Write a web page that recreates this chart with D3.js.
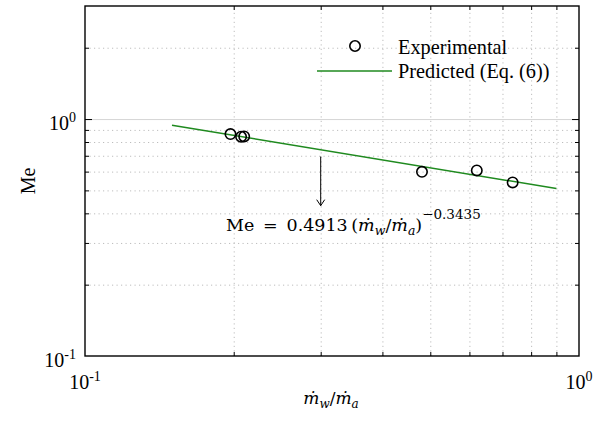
<!DOCTYPE html>
<html>
<head>
<meta charset="utf-8">
<script src="https://cdn.jsdelivr.net/npm/d3@7"></script>
<style>
    body { margin: 0; background: #fff; }
    text { font-family: "Liberation Serif", "Times New Roman", serif; fill: #000; }
    .math { font-family: "DejaVu Serif", serif; }
</style>
</head>
<body>
<script>
var xExp = [0.197, 0.207, 0.210, 0.481, 0.621, 0.734]
var meExp = [0.864, 0.842, 0.845, 0.599, 0.607, 0.540]

// fitted power law, endpoints of the drawn segment
var xPred = [0.15, 0.9]
var mePred = [0.942, 0.509]

var xMajor = [0.1, 1]
var yMajor = [0.1, 1]
var xMinor = [0.2, 0.3, 0.4, 0.5, 0.6, 0.7, 0.8, 0.9]
var yMinor = [0.2, 0.3, 0.4, 0.5, 0.6, 0.7, 0.8, 0.9, 2]
var tickExp = ["-1", "0"]

var legendLabels = ["Experimental", "Predicted (Eq. (6))"]
var annoX = 0.193, annoY = 0.338
var arrowX = 0.3, arrowFrom = 0.695, arrowTo = 0.431

var width = 606, height = 421
var margin = {top: 6, right: 27, bottom: 65, left: 85}
var w = width - margin.left - margin.right,
    h = height - margin.top - margin.bottom

var green = "#1f8a1f"

var x = d3.scaleLog().domain([0.1, 1]).range([0, w])
var y = d3.scaleLog().domain([0.1, 3]).range([h, 0])

var svg = d3.select("body").append("svg")
    .attr("width", width)
    .attr("height", height)

var g = svg.append("g")
    .attr("transform", `translate(${margin.left},${margin.top})`)

// dotted minor grid
g.append("g")
    .attr("class", "grid")
    .call(d3.axisLeft(y).tickValues(yMinor).tickSize(-w).tickFormat(""))
    .call(s => s.select(".domain").remove())
    .selectAll("line")
    .attr("stroke", "#bdbdbd")
    .attr("stroke-dasharray", "1.2,3.3")
g.append("g")
    .attr("class", "grid")
    .attr("transform", `translate(0,${h})`)
    .call(d3.axisBottom(x).tickValues(xMinor).tickSize(-h).tickFormat(""))
    .call(s => s.select(".domain").remove())
    .selectAll("line")
    .attr("stroke", "#bdbdbd")
    .attr("stroke-dasharray", "1.2,3.3")
// major grid line at 10^0
g.append("g")
    .call(d3.axisLeft(y).tickValues([1]).tickSize(-w).tickFormat(""))
    .call(s => s.select(".domain").remove())
    .selectAll("line")
    .attr("stroke", "#d6d6d6")

// inward ticks on all four sides
function ticks(axis, tr) {
    g.append("g")
        .attr("transform", tr)
        .call(axis)
        .call(s => s.select(".domain").remove())
        .selectAll("line")
        .attr("stroke", "#000")
        .attr("stroke-width", 1)
}
ticks(d3.axisBottom(x).tickValues(xMinor).tickSize(-4).tickFormat(""), `translate(0,${h})`)
ticks(d3.axisTop(x).tickValues(xMinor).tickSize(-4).tickFormat(""), "translate(0,0)")
ticks(d3.axisLeft(y).tickValues(yMinor).tickSize(-4).tickFormat(""), "translate(0,0)")
ticks(d3.axisRight(y).tickValues(yMinor).tickSize(-4).tickFormat(""), `translate(${w},0)`)
ticks(d3.axisLeft(y).tickValues([1]).tickSize(-7).tickFormat(""), "translate(0,0)")
ticks(d3.axisRight(y).tickValues([1]).tickSize(-7).tickFormat(""), `translate(${w},0)`)

// frame
g.append("rect")
    .attr("width", w)
    .attr("height", h)
    .attr("fill", "none")
    .attr("stroke", "#000")
    .attr("stroke-width", 1.4)

// tick labels with superscript exponents
var xl = g.append("g").attr("font-size", 20)
xMajor.forEach((v, i) => {
    var t = xl.append("text")
        .attr("x", x(v))
        .attr("y", h + 33)
        .attr("text-anchor", "middle")
    t.append("tspan").text("10")
    t.append("tspan").attr("dy", -8).attr("font-size", 14).text(tickExp[i])
})
var yl = g.append("g").attr("font-size", 20)
yMajor.forEach((v, i) => {
    var t = yl.append("text")
        .attr("x", -9)
        .attr("y", y(v) + 11)
        .attr("text-anchor", "end")
    t.append("tspan").text("10")
    t.append("tspan").attr("dy", -8).attr("font-size", 14).text(tickExp[i])
})

// axis titles
var xt = svg.append("text")
    .attr("class", "math")
    .attr("x", margin.left + w / 2 - 1)
    .attr("y", 404)
    .attr("text-anchor", "middle")
    .attr("font-size", 17)
    .attr("font-style", "italic")
xt.append("tspan").text("\u1E41")
xt.append("tspan").attr("dy", 4).attr("font-size", 12).text("w")
xt.append("tspan").attr("dy", -4).attr("font-style", "normal").text("/")
xt.append("tspan").text("\u1E41")
xt.append("tspan").attr("dy", 4).attr("font-size", 12).text("a")

svg.append("text")
    .attr("transform", `translate(35,${margin.top + h / 2}) rotate(-90)`)
    .attr("text-anchor", "middle")
    .attr("font-size", 20)
    .text("Me")

// predicted line
var line = d3.line()
    .x((d, i) => x(xPred[i]))
    .y((d, i) => y(mePred[i]))
g.append("path")
    .datum(xPred)
    .attr("d", line)
    .attr("fill", "none")
    .attr("stroke", green)
    .attr("stroke-width", 1.5)

// experimental points
g.selectAll(".pt")
    .data(xExp)
    .enter().append("circle")
    .attr("class", "pt")
    .attr("cx", d => x(d))
    .attr("cy", (d, i) => y(meExp[i]))
    .attr("r", 5.2)
    .attr("fill", "none")
    .attr("stroke", "#000")
    .attr("stroke-width", 1.6)

// arrow + equation
var ax = x(arrowX), a0 = y(arrowFrom), a1 = y(arrowTo)
g.append("path")
    .attr("d", `M${ax},${a0}L${ax},${a1}M${ax - 4},${a1 - 6}L${ax},${a1}L${ax + 4},${a1 - 6}`)
    .attr("fill", "none")
    .attr("stroke", "#000")
    .attr("stroke-width", 1)

var eq = g.append("text")
    .attr("class", "math")
    .attr("x", x(annoX))
    .attr("y", y(annoY))
    .attr("font-size", 17.5)
eq.append("tspan").text("Me\u2002=\u20020.4913\u2009(")
eq.append("tspan").attr("font-style", "italic").text("\u1E41")
eq.append("tspan").attr("dy", 4).attr("font-size", 12.5).attr("font-style", "italic").text("w")
eq.append("tspan").attr("dy", -4).text("/")
eq.append("tspan").attr("font-style", "italic").text("\u1E41")
eq.append("tspan").attr("dy", 4).attr("font-size", 12.5).attr("font-style", "italic").text("a")
eq.append("tspan").attr("dy", -4).text(")")
eq.append("tspan").attr("dy", -12).attr("font-size", 13.5).text("\u22120.3435")

// legend
var leg = svg.append("g").attr("font-size", 20.3)
leg.append("circle")
    .attr("cx", 355).attr("cy", 46).attr("r", 5.2)
    .attr("fill", "none").attr("stroke", "#000").attr("stroke-width", 1.6)
leg.append("line")
    .attr("x1", 317).attr("x2", 392).attr("y1", 71).attr("y2", 71)
    .attr("stroke", green).attr("stroke-width", 1.5)
leg.selectAll(".lab")
    .data(legendLabels)
    .enter().append("text")
    .attr("class", "lab")
    .attr("x", 398)
    .attr("y", (d, i) => 54 + i * 24)
    .text(d => d)
</script>
</body>
</html>
